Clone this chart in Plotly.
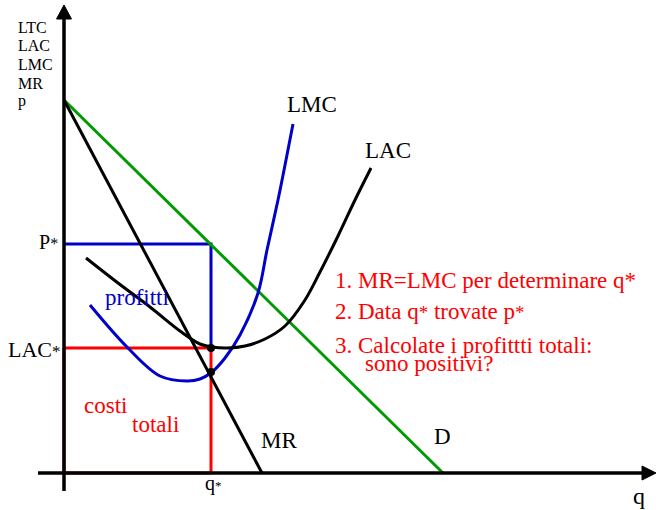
import plotly.graph_objects as go

# ---- data (q = quantity, p = price / cost; origin at the axes crossing) ----
D_q = [0, 379]
D_p = [373, 0]
MR_q = [0, 198]
MR_p = [373, 0]
LMC_q = [26, 63, 96, 123, 136, 148, 161, 176, 194, 203, 214, 222, 229]
LMC_p = [168, 126, 97, 92, 94, 101, 115, 138, 180, 223, 273, 313, 349]
LAC_q = [22, 54, 86, 116, 136, 148, 164, 181, 201, 221, 241, 256, 274, 291, 307]
LAC_p = [215, 190, 166, 142, 129, 126, 125, 127, 134, 147, 173, 201, 237, 273, 305]
q_star = 147
p_star = 229
lac_star = 125
lmc_at_qstar = 101

left_labels = ["LTC", "LAC", "LMC", "MR", "p"]


def star(size):
    return f'<span style="font-size:{size}px">*</span>'


steps = ["1. MR=LMC per determinare q*",
         "2. Data q" + star(19) + " trovate p" + star(19),
         "3. Calcolate i profittti totali:",
         "sono positivi?"]

SERIF = "Liberation Serif, Times New Roman, serif"
BLUE = "rgb(0,0,200)"
RED = "rgb(255,0,0)"
GREEN = "rgb(0,155,0)"

# plot window: px = q + 64, py = 473 - p
X0, Y0 = 64, 473
XR = [-X0, 656 - X0]
YR = [Y0 - 510, Y0]


def X(px):
    return px - X0


def Y(py):
    return Y0 - py


fig = go.Figure()

# red rectangle (total costs)
fig.add_trace(go.Scatter(x=[0, q_star, q_star, 0, 0], y=[lac_star, lac_star, 0, 0, lac_star],
                         mode="lines", line=dict(color=RED, width=3), hoverinfo="skip"))
# blue rectangle (profits)
fig.add_trace(go.Scatter(x=[0, q_star, q_star], y=[p_star, p_star, lac_star],
                         mode="lines", line=dict(color=BLUE, width=3), hoverinfo="skip"))
# demand
fig.add_trace(go.Scatter(x=D_q, y=D_p, mode="lines", line=dict(color=GREEN, width=3)))
# marginal revenue
fig.add_trace(go.Scatter(x=MR_q, y=MR_p, mode="lines", line=dict(color="black", width=3)))
# LMC
fig.add_trace(go.Scatter(x=LMC_q, y=LMC_p, mode="lines",
                         line=dict(color=BLUE, width=3, shape="spline", smoothing=1.0)))
# LAC
fig.add_trace(go.Scatter(x=LAC_q, y=LAC_p, mode="lines",
                         line=dict(color="black", width=3, shape="spline", smoothing=1.0)))
# points
fig.add_trace(go.Scatter(x=[q_star, q_star], y=[lac_star, lmc_at_qstar], mode="markers",
                         marker=dict(color="black", size=8)))

shapes = [
    # y axis
    dict(type="line", x0=0, x1=0, y0=Y(491), y1=Y(18), line=dict(color="black", width=3.5)),
    dict(type="path", path=f"M {X(56.5)},{Y(19)} L {X(64)},{Y(5)} L {X(71.5)},{Y(19)} Z",
         fillcolor="black", line=dict(color="black", width=1)),
    # x axis
    dict(type="line", x0=X(38), x1=X(644), y0=0, y1=0, line=dict(color="black", width=3.5)),
    dict(type="path", path=f"M {X(642)},{Y(466)} L {X(656)},{Y(473)} L {X(642)},{Y(480)} Z",
         fillcolor="black", line=dict(color="black", width=1)),
]
for s in shapes:
    s.update(xref="x", yref="y", layer="above")

ann = []


def label(text, px, py, size, color="black", xanchor="left"):
    ann.append(dict(text=text, x=X(px), y=Y(py), xref="x", yref="y", showarrow=False,
                    xanchor=xanchor, yanchor="middle",
                    font=dict(family=SERIF, size=size, color=color)))


for t, py in zip(left_labels, [27.5, 45.5, 64, 83, 100.5]):
    label(t, 16, py, 16)

label("LMC", 285, 104, 23)
label("LAC", 363, 150.5, 23)
label("P" + star(16), 60, 241.5, 20, xanchor="right")
label("LAC" + star(17), 63, 349.5, 22, xanchor="right")
label("profitti", 103, 297.5, 23, BLUE)
label("costi", 82, 405.5, 23, RED)
label("totali", 130, 424.5, 23, RED)
label("MR", 259, 440.5, 23)
label("D", 432, 436, 23)
label("q" + star(13), 203, 483.5, 20)
label("q", 631, 496, 24)
for t, px, py in zip(steps, [333, 333, 333, 363], [280.7, 311.7, 345, 363.5]):
    label(t, px, py, 23, RED)

fig.update_layout(
    width=656, height=510,
    margin=dict(l=0, r=0, t=0, b=0),
    paper_bgcolor="white", plot_bgcolor="white",
    showlegend=False,
    xaxis=dict(range=XR, visible=False, fixedrange=True),
    yaxis=dict(range=YR, visible=False, fixedrange=True),
    shapes=shapes,
    annotations=ann,
)

fig.write_html("out.html", config={"displayModeBar": False},
               post_script="document.body.style.margin='0';")
